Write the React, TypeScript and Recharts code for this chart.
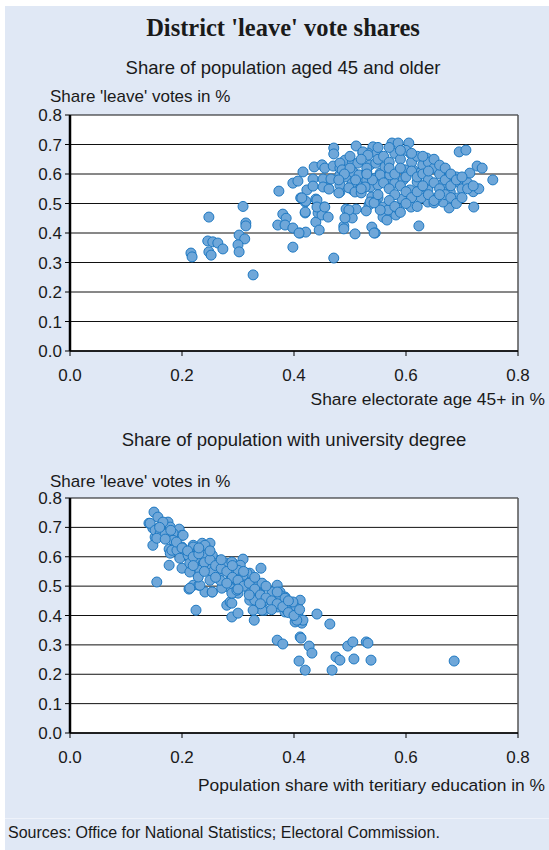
import React from 'react';
import {
  ScatterChart,
  Scatter,
  XAxis,
  YAxis,
  CartesianGrid,
  ReferenceLine,
} from 'recharts';

// x = share of electorate aged 45+, y = share of 'leave' votes
const ageData: [number, number][] = [
  [0.216, 0.332], [0.218, 0.319], [0.248, 0.454], [0.246, 0.373], [0.255, 0.37],
  [0.264, 0.366], [0.248, 0.336], [0.252, 0.325], [0.273, 0.346], [0.309, 0.49],
  [0.314, 0.434], [0.314, 0.424], [0.302, 0.393], [0.312, 0.38], [0.3, 0.36],
  [0.302, 0.336], [0.327, 0.258],
  [0.373, 0.542], [0.38, 0.464], [0.386, 0.45], [0.371, 0.427], [0.384, 0.427],
  [0.398, 0.417], [0.411, 0.4], [0.421, 0.403], [0.398, 0.352], [0.471, 0.315],
  [0.42, 0.468], [0.439, 0.437], [0.445, 0.41], [0.454, 0.488], [0.443, 0.468],
  [0.45, 0.461], [0.461, 0.454], [0.439, 0.515], [0.42, 0.505], [0.412, 0.519],
  [0.423, 0.546], [0.398, 0.569], [0.407, 0.576], [0.416, 0.607], [0.434, 0.583],
  [0.434, 0.559], [0.436, 0.624], [0.45, 0.631], [0.455, 0.62], [0.452, 0.583],
  [0.461, 0.553], [0.47, 0.627], [0.471, 0.688], [0.471, 0.668], [0.482, 0.597],
  [0.482, 0.62], [0.491, 0.647], [0.482, 0.539], [0.511, 0.695], [0.493, 0.481],
  [0.496, 0.454], [0.489, 0.424], [0.489, 0.414], [0.509, 0.397], [0.504, 0.451],
  [0.511, 0.481], [0.507, 0.603], [0.505, 0.546], [0.512, 0.569],
  [0.452, 0.556], [0.4625, 0.549], [0.466, 0.583], [0.482, 0.563], [0.48, 0.536],
  [0.482, 0.637], [0.486, 0.614], [0.493, 0.59], [0.504, 0.637], [0.505, 0.607],
  [0.516, 0.597], [0.514, 0.637], [0.504, 0.569], [0.498, 0.553], [0.509, 0.539],
  [0.52, 0.536], [0.53, 0.607], [0.536, 0.631], [0.546, 0.637], [0.554, 0.603],
  [0.5625, 0.624], [0.545, 0.586], [0.53, 0.58], [0.536, 0.556], [0.55, 0.563],
  [0.566, 0.58], [0.539, 0.522], [0.55, 0.519], [0.534, 0.495], [0.545, 0.505],
  [0.559, 0.488], [0.568, 0.471], [0.559, 0.454], [0.498, 0.478], [0.491, 0.451],
  [0.539, 0.42], [0.545, 0.4], [0.441, 0.512], [0.441, 0.488], [0.421, 0.508],
  [0.414, 0.519], [0.42, 0.471], [0.455, 0.488], [0.409, 0.4],
  [0.541, 0.692], [0.523, 0.671], [0.532, 0.671], [0.548, 0.671],
  [0.575, 0.705], [0.586, 0.705], [0.605, 0.705], [0.695, 0.675], [0.707, 0.681],
  [0.727, 0.627], [0.736, 0.62], [0.755, 0.58], [0.721, 0.488], [0.623, 0.424],
  [0.543, 0.4], [0.714, 0.603], [0.696, 0.569], [0.709, 0.563], [0.693, 0.519],
  [0.677, 0.485], [0.666, 0.505], [0.664, 0.563], [0.666, 0.614], [0.679, 0.597],
  [0.679, 0.539], [0.655, 0.519], [0.639, 0.505], [0.65, 0.502], [0.627, 0.519],
  [0.637, 0.654], [0.609, 0.668], [0.609, 0.488], [0.593, 0.515], [0.58, 0.569],
  [0.566, 0.444], [0.582, 0.461], [0.568, 0.478], [0.584, 0.485], [0.554, 0.478],
  [0.536, 0.505], [0.543, 0.502], [0.529, 0.475], [0.523, 0.675], [0.532, 0.664],
  [0.527, 0.556], [0.554, 0.597], [0.571, 0.597], [0.598, 0.614], [0.6125, 0.614],
  [0.625, 0.603], [0.6375, 0.614], [0.607, 0.546], [0.625, 0.556], [0.639, 0.546],
  [0.595, 0.58], [0.62, 0.573],
  [0.52, 0.65], [0.53, 0.62], [0.55, 0.65], [0.56, 0.66], [0.57, 0.64],
  [0.58, 0.67], [0.59, 0.65], [0.6, 0.68], [0.61, 0.64], [0.62, 0.66],
  [0.63, 0.63], [0.64, 0.64], [0.65, 0.62], [0.66, 0.6], [0.67, 0.58],
  [0.68, 0.56], [0.69, 0.59], [0.7, 0.55], [0.71, 0.57], [0.72, 0.54],
  [0.57, 0.62], [0.58, 0.6], [0.59, 0.62], [0.6, 0.59], [0.61, 0.61],
  [0.62, 0.59], [0.63, 0.6], [0.64, 0.58], [0.65, 0.57], [0.66, 0.55],
  [0.67, 0.53], [0.68, 0.52], [0.69, 0.5], [0.7, 0.52], [0.56, 0.57],
  [0.57, 0.55], [0.58, 0.53], [0.59, 0.56], [0.6, 0.54], [0.61, 0.52],
  [0.62, 0.54], [0.63, 0.56], [0.64, 0.53], [0.65, 0.51], [0.66, 0.53],
  [0.57, 0.51], [0.58, 0.49], [0.6, 0.5], [0.62, 0.49], [0.59, 0.47],
  [0.55, 0.53], [0.54, 0.58], [0.53, 0.6], [0.52, 0.55], [0.51, 0.58],
  [0.5, 0.62], [0.49, 0.6], [0.48, 0.58], [0.5, 0.66], [0.55, 0.69],
  [0.57, 0.69], [0.59, 0.68], [0.61, 0.67], [0.63, 0.66], [0.65, 0.65],
  [0.64, 0.61], [0.66, 0.63], [0.67, 0.62], [0.68, 0.6], [0.69, 0.58],
  [0.7, 0.59], [0.71, 0.55], [0.73, 0.55], [0.72, 0.56],
];

// x = population share with tertiary education, y = share of 'leave' votes
const eduData: [number, number][] = [
  [0.15, 0.752], [0.141, 0.714], [0.157, 0.735], [0.148, 0.697], [0.152, 0.667],
  [0.148, 0.639], [0.175, 0.718], [0.179, 0.701], [0.17, 0.68], [0.184, 0.66],
  [0.195, 0.694], [0.2, 0.673], [0.177, 0.626], [0.179, 0.612], [0.177, 0.571],
  [0.155, 0.514], [0.196, 0.612], [0.2, 0.561], [0.214, 0.548], [0.22, 0.639],
  [0.236, 0.646], [0.25, 0.646], [0.211, 0.599], [0.227, 0.588], [0.238, 0.578],
  [0.25, 0.605], [0.2625, 0.588], [0.25, 0.565], [0.2125, 0.49], [0.22, 0.503],
  [0.23, 0.503], [0.241, 0.48], [0.254, 0.48], [0.225, 0.418], [0.309, 0.592],
  [0.341, 0.561], [0.28, 0.435], [0.286, 0.446], [0.289, 0.395], [0.3, 0.408],
  [0.268, 0.544], [0.28, 0.554], [0.286, 0.52], [0.298, 0.527], [0.273, 0.497],
  [0.286, 0.493], [0.304, 0.554], [0.316, 0.537], [0.327, 0.527], [0.309, 0.503],
  [0.321, 0.486], [0.334, 0.463], [0.321, 0.452], [0.339, 0.486], [0.336, 0.425],
  [0.329, 0.384], [0.348, 0.418], [0.37, 0.503], [0.375, 0.48], [0.384, 0.463],
  [0.393, 0.442], [0.384, 0.412], [0.398, 0.429], [0.411, 0.452], [0.407, 0.395],
  [0.414, 0.374], [0.411, 0.327], [0.37, 0.316],
  [0.441, 0.405], [0.464, 0.371], [0.4125, 0.323], [0.427, 0.296], [0.432, 0.272],
  [0.409, 0.245], [0.42, 0.214], [0.468, 0.214], [0.475, 0.259], [0.482, 0.248],
  [0.496, 0.296], [0.505, 0.31], [0.529, 0.31], [0.532, 0.306], [0.507, 0.252],
  [0.5375, 0.248], [0.686, 0.245], [0.38, 0.303], [0.3875, 0.435], [0.402, 0.429],
  [0.407, 0.408], [0.402, 0.378], [0.416, 0.384], [0.398, 0.446],
  [0.321, 0.544], [0.33, 0.52], [0.343, 0.51], [0.321, 0.48], [0.336, 0.476],
  [0.348, 0.452], [0.33, 0.452], [0.343, 0.418], [0.327, 0.418], [0.361, 0.48],
  [0.366, 0.446], [0.375, 0.469], [0.384, 0.459], [0.371, 0.429], [0.3875, 0.418],
  [0.405, 0.384], [0.291, 0.578], [0.289, 0.531], [0.298, 0.52], [0.309, 0.51],
  [0.295, 0.48], [0.3, 0.476], [0.289, 0.442], [0.316, 0.544], [0.316, 0.51],
  [0.143, 0.714], [0.166, 0.718], [0.152, 0.69], [0.161, 0.68], [0.17, 0.677],
  [0.184, 0.68], [0.155, 0.663], [0.184, 0.656], [0.202, 0.673], [0.2, 0.633],
  [0.182, 0.622], [0.191, 0.622], [0.196, 0.595], [0.211, 0.605], [0.22, 0.633],
  [0.229, 0.622], [0.241, 0.639], [0.214, 0.578], [0.241, 0.605], [0.254, 0.605],
  [0.232, 0.554], [0.245, 0.565], [0.255, 0.548], [0.271, 0.565], [0.28, 0.578],
  [0.289, 0.582], [0.304, 0.571], [0.286, 0.548], [0.3, 0.554], [0.309, 0.537],
  [0.214, 0.493], [0.232, 0.503], [0.254, 0.48], [0.271, 0.493], [0.289, 0.476],
  [0.298, 0.486], [0.25, 0.52], [0.268, 0.52], [0.229, 0.531],
  [0.16, 0.7], [0.17, 0.66], [0.18, 0.69], [0.19, 0.65], [0.2, 0.63],
  [0.21, 0.62], [0.22, 0.6], [0.23, 0.61], [0.24, 0.58], [0.25, 0.59],
  [0.26, 0.57], [0.27, 0.56], [0.28, 0.55], [0.29, 0.53], [0.3, 0.52],
  [0.31, 0.5], [0.32, 0.51], [0.33, 0.49], [0.34, 0.47], [0.35, 0.46],
  [0.36, 0.45], [0.37, 0.44], [0.38, 0.43], [0.39, 0.41], [0.4, 0.4],
  [0.22, 0.57], [0.24, 0.55], [0.26, 0.53], [0.28, 0.51], [0.3, 0.49],
  [0.32, 0.47], [0.34, 0.44], [0.36, 0.42], [0.23, 0.63], [0.25, 0.62],
  [0.27, 0.59], [0.29, 0.57], [0.31, 0.55], [0.33, 0.53], [0.35, 0.5],
  [0.37, 0.48], [0.39, 0.45], [0.41, 0.42],
];

const xTicks = [0, 0.2, 0.4, 0.6, 0.8];
const yTicks = [0, 0.1, 0.2, 0.3, 0.4, 0.5, 0.6, 0.7, 0.8];

const FONT = '"Liberation Sans", Arial, sans-serif';
const BG = '#e0e8f5';

const Dot = (props: any) => (
  <circle cx={props.cx} cy={props.cy} r={5} fill="#6fa7d9" stroke="#1f79c2" strokeWidth={1} />
);

const tickStyle = { fill: '#1a1a1a', fontSize: 17, fontFamily: FONT };

function Plot({ data, top, plotHeight }: { data: [number, number][]; top: number; plotHeight: number }) {
  const points = data.map(([x, y]) => ({ x, y }));
  return (
    <div style={{ position: 'absolute', left: 0, top: top - 15 }}>
      <ScatterChart
        width={549}
        height={15 + plotHeight + 40}
        margin={{ top: 15, right: 31, bottom: 0, left: 0 }}
      >
        <CartesianGrid vertical={false} stroke="#111" strokeWidth={1} fill="#ffffff" />
        <XAxis
          type="number"
          dataKey="x"
          domain={[0, 0.8]}
          ticks={xTicks}
          tickFormatter={(v: number) => v.toFixed(1)}
          height={40}
          tick={tickStyle}
          tickSize={5}
          tickMargin={13}
          axisLine={{ stroke: '#000', strokeWidth: 1.5 }}
          tickLine={{ stroke: '#000' }}
        />
        <YAxis
          type="number"
          dataKey="y"
          domain={[0, 0.8]}
          ticks={yTicks}
          tickFormatter={(v: number) => v.toFixed(1)}
          width={70}
          tick={tickStyle}
          tickSize={5}
          tickMargin={3}
          axisLine={{ stroke: '#000', strokeWidth: 2.5 }}
          tickLine={{ stroke: '#000' }}
        />
        <ReferenceLine x={0.8} stroke="#555" strokeWidth={1.5} />
        <Scatter data={points} shape={Dot} isAnimationActive={false} />
      </ScatterChart>
    </div>
  );
}

const label = (text: string, top: number, style: React.CSSProperties) => (
  <div
    style={{
      position: 'absolute',
      top,
      lineHeight: 1,
      transform: 'translateY(-50%)',
      fontFamily: FONT,
      fontSize: 17,
      color: '#1a1a1a',
      whiteSpace: 'nowrap',
      ...style,
    }}
  >
    {text}
  </div>
);

export default function App() {
  return (
    <div style={{ position: 'absolute', left: 0, top: 0, width: 549, height: 850, background: '#fff' }}>
      <div style={{ position: 'absolute', left: 5, top: 6, width: 544, height: 844, background: BG }} />
      <div style={{ position: 'absolute', left: 5, top: 818, width: 544, height: 1, background: '#eef2fa' }} />
      {label("District 'leave' vote shares", 28, {
        left: 0,
        width: 566,
        textAlign: 'center',
        fontFamily: '"Liberation Serif", "Times New Roman", serif',
        fontWeight: 'bold',
        fontSize: 24.5,
      })}
      {label('Share of population aged 45 and older', 68, { left: 0, width: 566, textAlign: 'center', fontSize: 18.5 })}
      {label("Share 'leave' votes in %", 96, { left: 50 })}
      <Plot data={ageData} top={115} plotHeight={236} />
      {label('Share electorate age 45+ in %', 400, { left: 0, width: 545, textAlign: 'right', fontSize: 17.4 })}
      {label('Share of population with university degree', 440, { left: 0, width: 588, textAlign: 'center', fontSize: 18.5 })}
      {label("Share 'leave' votes in %", 481, { left: 50 })}
      <Plot data={eduData} top={498} plotHeight={235} />
      {label('Population share with teritiary education in %', 786, { left: 0, width: 545, textAlign: 'right', fontSize: 17.4 })}
      {label('Sources: Office for National Statistics; Electoral Commission.', 833, { left: 8, fontSize: 16 })}
    </div>
  );
}
